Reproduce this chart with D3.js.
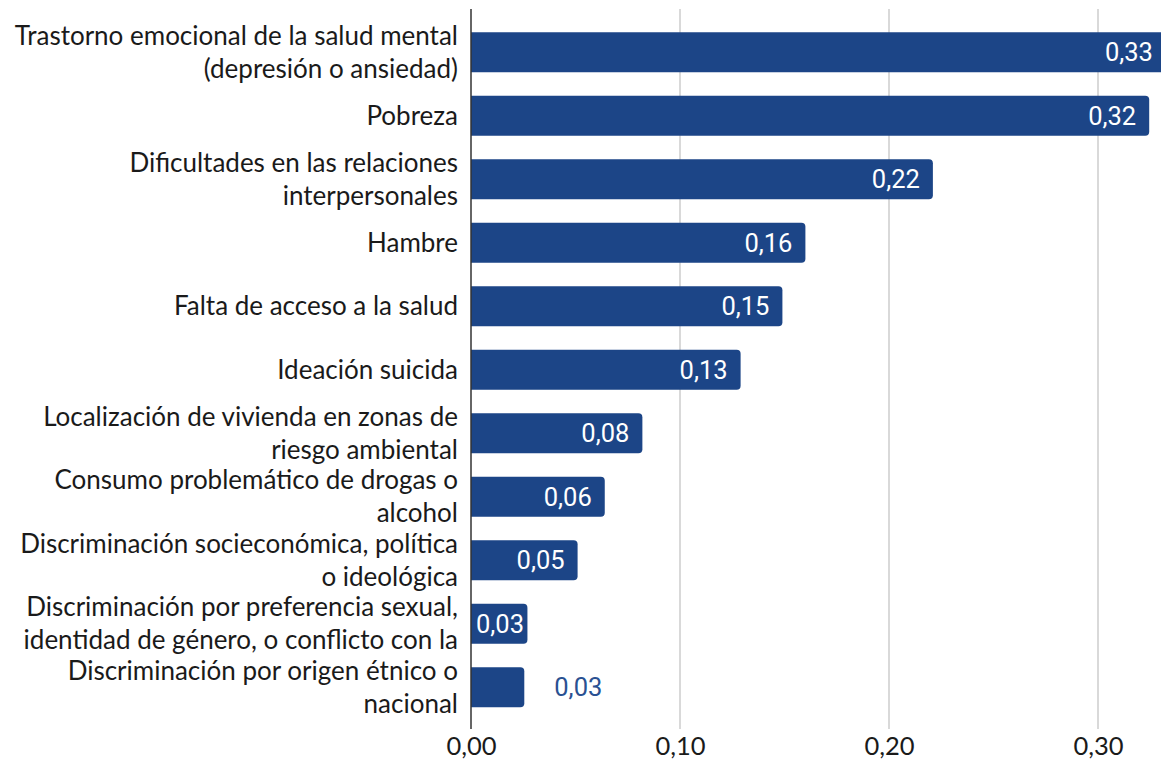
<!DOCTYPE html>
<html>
<head>
<meta charset="utf-8">
<script src="https://cdn.jsdelivr.net/npm/d3@7"></script>
<style>
  body { margin: 0; background: #fff; }
  svg { display: block; }
  .cat { font-family: Lato, "Open Sans", sans-serif; font-size: 26px; fill: #1a1a1a; }
  .tick text { font-family: Lato, "Open Sans", sans-serif; font-size: 25.5px; fill: #1a1a1a; }
  .val { font-family: Roboto, sans-serif; font-size: 25.5px; }
</style>
</head>
<body>
<svg width="1161" height="767"></svg>
<script>
// categories, one string per bar, lines split by "\n"
const categories = [
  "Trastorno emocional de la salud mental\n(depresión o ansiedad)",
  "Pobreza",
  "Dificultades en las relaciones\ninterpersonales",
  "Hambre",
  "Falta de acceso a la salud",
  "Ideación suicida",
  "Localización de vivienda en zonas de\nriesgo ambiental",
  "Consumo problemático de drogas o\nalcohol",
  "Discriminación socieconómica, política\no ideológica",
  "Discriminación por preferencia sexual,\nidentidad de género, o conflicto con la",
  "Discriminación por origen étnico o\nnacional"
];
const values = [0.3325, 0.3245, 0.221, 0.160, 0.149, 0.129, 0.082, 0.064, 0.051, 0.027, 0.0255];
const tickValues = [0, 0.1, 0.2, 0.3];

const svg = d3.select('svg');
const barColor = '#1c4587';

const locale = d3.formatLocale({ decimal: ',', thousands: '.', grouping: [3], currency: ['', ''] });
const fmt = locale.format('.2f');

const x = d3.scaleLinear().domain([0, 0.33]).range([471, 1160.7]);
const y = d3.scaleBand()
  .domain(d3.range(categories.length))
  .range([20.5, 719])
  .paddingInner(0.37)
  .paddingOuter(0.185);

// grid
svg.append('g').selectAll('line')
  .data(tickValues.filter(d => d > 0))
  .join('line')
  .attr('x1', d => x(d)).attr('x2', d => x(d))
  .attr('y1', 9).attr('y2', 729)
  .attr('stroke', '#cccccc').attr('stroke-width', 1.5);

// x tick labels
const xAxis = svg.append('g')
  .attr('transform', 'translate(0,729)')
  .call(d3.axisBottom(x).tickValues(tickValues).tickFormat(fmt).tickSize(0).tickPadding(8));
xAxis.select('.domain').remove();
xAxis.selectAll('text').attr('dy', '0.71em');

// bars, rounded on the right end only
const r = 4;
svg.append('g').selectAll('path')
  .data(values)
  .join('path')
  .attr('fill', barColor)
  .attr('d', (d, i) => {
    const x0 = x(0), x1 = x(d), y0 = y(i), h = y.bandwidth();
    return `M${x0},${y0}H${x1 - r}Q${x1},${y0} ${x1},${y0 + r}V${y0 + h - r}Q${x1},${y0 + h} ${x1 - r},${y0 + h}H${x0}Z`;
  });

// value labels: inside the bar end, pushed right if the bar is short, outside if the bar is too short
const minInside = 55;
svg.append('g').selectAll('text')
  .data(values)
  .join('text')
  .attr('class', 'val')
  .text(d => fmt(d))
  .each(function(d, i) {
    const t = d3.select(this);
    const w = this.getComputedTextLength();
    const inside = x(d) - x(0) >= minInside;
    const xEnd = Math.max(x(d) - 13, x(0) + 5 + w);
    t.attr('y', y(i) + y.bandwidth() / 2)
      .attr('dy', '0.36em')
      .attr('x', inside ? xEnd : x(d) + 30)
      .attr('text-anchor', inside ? 'end' : 'start')
      .attr('fill', inside ? '#ffffff' : '#2a5192');
  });

// y axis line
svg.append('line')
  .attr('x1', x(0)).attr('x2', x(0))
  .attr('y1', 9).attr('y2', 729)
  .attr('stroke', '#333').attr('stroke-width', 1.5);

// category labels
const lineH = 33;
svg.append('g').selectAll('text')
  .data(categories)
  .join('text')
  .attr('class', 'cat')
  .attr('text-anchor', 'end')
  .each(function(d, i) {
    const lines = d.split('\n');
    const cy = y(i) + y.bandwidth() / 2 - (lines.length - 1) * lineH / 2;
    d3.select(this).selectAll('tspan')
      .data(lines)
      .join('tspan')
      .attr('x', 458)
      .attr('y', (l, j) => cy + j * lineH)
      .attr('dy', '0.35em')
      .text(l => l);
  });
</script>
</body>
</html>
